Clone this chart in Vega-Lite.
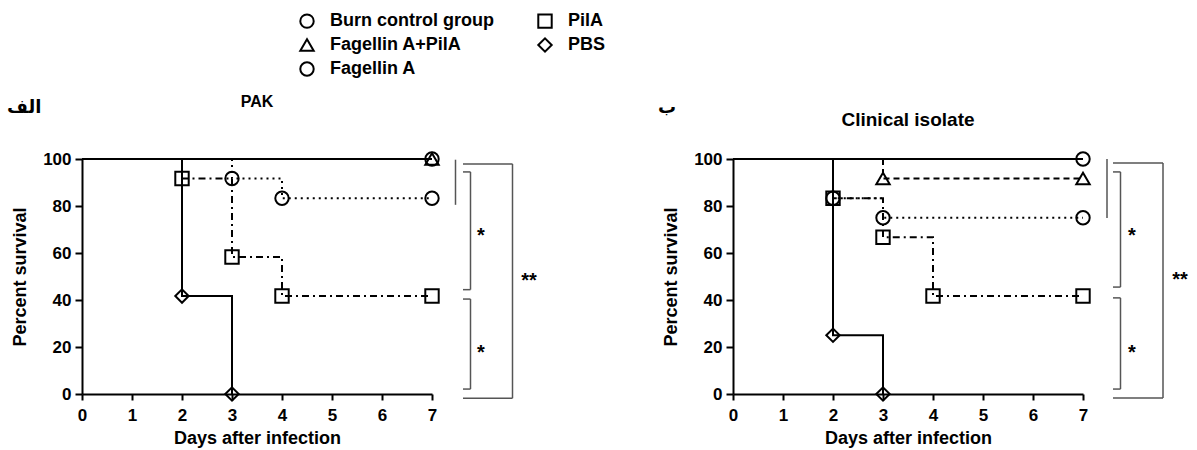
{
  "$schema": "https://vega.github.io/schema/vega-lite/v6.json",
  "autosize": {"type": "pad"},
  "padding": {"left": 7, "top": 12, "right": 4, "bottom": 2},
  "bounds": "flush",
  "spacing": 301,
  "config": {
    "view": {"stroke": null},
    "font": "Liberation Sans",
    "axis": {
      "grid": false,
      "domainColor": "black", "domainWidth": 2,
      "tickColor": "black", "tickWidth": 2, "tickSize": 6,
      "labelColor": "black", "labelFontSize": 17, "labelFontWeight": "bold", "labelFont": "Liberation Sans",
      "titleColor": "black", "titleFontSize": 18, "titleFontWeight": "bold", "titleFont": "Liberation Sans"
    },
    "axisX": {"labelPadding": 7, "titlePadding": 6, "labelFlush": false},
    "axisY": {"tickSize": 7, "labelPadding": 4, "titlePadding": 13}
  },
  "datasets": {
    "surv": [
      {"panel": "PAK", "group": "Burn control group", "day": 0, "pct": 100},
      {"panel": "PAK", "group": "Burn control group", "day": 7, "pct": 100},
      {"panel": "PAK", "group": "Fagellin A+PilA", "day": 0, "pct": 100},
      {"panel": "PAK", "group": "Fagellin A+PilA", "day": 7, "pct": 100},
      {"panel": "PAK", "group": "Fagellin A", "day": 0, "pct": 100},
      {"panel": "PAK", "group": "Fagellin A", "day": 3, "pct": 91.7},
      {"panel": "PAK", "group": "Fagellin A", "day": 4, "pct": 83.3},
      {"panel": "PAK", "group": "Fagellin A", "day": 7, "pct": 83.3},
      {"panel": "PAK", "group": "PilA", "day": 0, "pct": 100},
      {"panel": "PAK", "group": "PilA", "day": 2, "pct": 91.7},
      {"panel": "PAK", "group": "PilA", "day": 3, "pct": 58.3},
      {"panel": "PAK", "group": "PilA", "day": 4, "pct": 41.7},
      {"panel": "PAK", "group": "PilA", "day": 7, "pct": 41.7},
      {"panel": "PAK", "group": "PBS", "day": 0, "pct": 100},
      {"panel": "PAK", "group": "PBS", "day": 2, "pct": 41.7},
      {"panel": "PAK", "group": "PBS", "day": 3, "pct": 0},
      {"panel": "Clinical isolate", "group": "Burn control group", "day": 0, "pct": 100},
      {"panel": "Clinical isolate", "group": "Burn control group", "day": 7, "pct": 100},
      {"panel": "Clinical isolate", "group": "Fagellin A+PilA", "day": 0, "pct": 100},
      {"panel": "Clinical isolate", "group": "Fagellin A+PilA", "day": 3, "pct": 91.7},
      {"panel": "Clinical isolate", "group": "Fagellin A+PilA", "day": 7, "pct": 91.7},
      {"panel": "Clinical isolate", "group": "Fagellin A", "day": 0, "pct": 100},
      {"panel": "Clinical isolate", "group": "Fagellin A", "day": 2, "pct": 83.3},
      {"panel": "Clinical isolate", "group": "Fagellin A", "day": 3, "pct": 75},
      {"panel": "Clinical isolate", "group": "Fagellin A", "day": 7, "pct": 75},
      {"panel": "Clinical isolate", "group": "PilA", "day": 0, "pct": 100},
      {"panel": "Clinical isolate", "group": "PilA", "day": 2, "pct": 83.3},
      {"panel": "Clinical isolate", "group": "PilA", "day": 3, "pct": 66.7},
      {"panel": "Clinical isolate", "group": "PilA", "day": 4, "pct": 41.7},
      {"panel": "Clinical isolate", "group": "PilA", "day": 7, "pct": 41.7},
      {"panel": "Clinical isolate", "group": "PBS", "day": 0, "pct": 100},
      {"panel": "Clinical isolate", "group": "PBS", "day": 2, "pct": 25},
      {"panel": "Clinical isolate", "group": "PBS", "day": 3, "pct": 0}
    ],
    "brackets": [
      {"panel": "PAK", "x1": 7.47, "x2": 7.47, "y1": 99.7, "y2": 80.5},
      {"panel": "PAK", "x1": 7.77, "x2": 7.77, "y1": 94.5, "y2": 44.4},
      {"panel": "PAK", "x1": 7.62, "x2": 7.77, "y1": 94.5, "y2": 94.5},
      {"panel": "PAK", "x1": 7.62, "x2": 7.77, "y1": 44.4, "y2": 44.4},
      {"panel": "PAK", "x1": 7.77, "x2": 7.77, "y1": 40.4, "y2": 2.1},
      {"panel": "PAK", "x1": 7.62, "x2": 7.77, "y1": 40.4, "y2": 40.4},
      {"panel": "PAK", "x1": 7.62, "x2": 7.77, "y1": 2.1, "y2": 2.1},
      {"panel": "PAK", "x1": 8.61, "x2": 8.61, "y1": 97.9, "y2": -1.8},
      {"panel": "PAK", "x1": 7.62, "x2": 8.61, "y1": 97.9, "y2": 97.9},
      {"panel": "PAK", "x1": 7.62, "x2": 8.61, "y1": -1.8, "y2": -1.8},
      {"panel": "Clinical isolate", "x1": 7.48, "x2": 7.48, "y1": 100, "y2": 74.9},
      {"panel": "Clinical isolate", "x1": 7.75, "x2": 7.75, "y1": 94.5, "y2": 45.5},
      {"panel": "Clinical isolate", "x1": 7.6, "x2": 7.75, "y1": 94.5, "y2": 94.5},
      {"panel": "Clinical isolate", "x1": 7.6, "x2": 7.75, "y1": 45.5, "y2": 45.5},
      {"panel": "Clinical isolate", "x1": 7.75, "x2": 7.75, "y1": 40.9, "y2": 2.1},
      {"panel": "Clinical isolate", "x1": 7.6, "x2": 7.75, "y1": 40.9, "y2": 40.9},
      {"panel": "Clinical isolate", "x1": 7.6, "x2": 7.75, "y1": 2.1, "y2": 2.1},
      {"panel": "Clinical isolate", "x1": 8.6, "x2": 8.6, "y1": 98.3, "y2": -1.7},
      {"panel": "Clinical isolate", "x1": 7.6, "x2": 8.6, "y1": 98.3, "y2": 98.3},
      {"panel": "Clinical isolate", "x1": 7.6, "x2": 8.6, "y1": -1.7, "y2": -1.7}
    ],
    "stars": [
      {"panel": "PAK", "x": 7.98, "y": 69.5, "label": "*"},
      {"panel": "PAK", "x": 7.98, "y": 19.6, "label": "*"},
      {"panel": "PAK", "x": 8.94, "y": 50.3, "label": "**"},
      {"panel": "Clinical isolate", "x": 7.98, "y": 69.4, "label": "*"},
      {"panel": "Clinical isolate", "x": 7.98, "y": 19.6, "label": "*"},
      {"panel": "Clinical isolate", "x": 8.94, "y": 50.6, "label": "**"}
    ],
    "tags": [
      {"panel": "PAK", "tag": "الف"},
      {"panel": "Clinical isolate", "tag": "ب"}
    ]
  },
  "hconcat": [
    {
      "width": 350, "height": 235,
      "title": {"text": "PAK", "frame": "group", "anchor": "middle", "fontSize": 16, "fontWeight": "bold", "font": "Liberation Sans", "color": "black", "baseline": "alphabetic", "offset": -24},
      "layer": [
        {
          "data": {"name": "surv"},
          "transform": [{"filter": "datum.panel == 'PAK'"}],
          "mark": {"type": "line", "interpolate": "step-after", "color": "black", "strokeWidth": 2},
          "encoding": {
            "x": {"field": "day", "type": "quantitative", "scale": {"domain": [0, 7], "nice": false}, "axis": {"values": [0, 1, 2, 3, 4, 5, 6, 7], "format": "d", "title": "Days after infection"}},
            "y": {"field": "pct", "type": "quantitative", "scale": {"domain": [0, 100], "nice": false}, "axis": {"values": [0, 20, 40, 60, 80, 100], "title": "Percent survival"}},
            "strokeDash": {"field": "group", "type": "nominal", "scale": {"domain": ["PBS", "PilA", "Fagellin A", "Fagellin A+PilA", "Burn control group"], "range": [[1, 0], [7, 4, 2, 4], [2, 4], [6, 4], [1, 0]]}, "legend": null}
          }
        },
        {
          "data": {"name": "surv"},
          "transform": [{"filter": "datum.panel == 'PAK' && datum.day > 0"}],
          "mark": {"type": "point", "filled": false, "color": "black", "strokeWidth": 2, "size": 180, "opacity": 1},
          "encoding": {
            "x": {"field": "day", "type": "quantitative", "scale": {"domain": [0, 7], "nice": false}, "title": "Days after infection"},
            "y": {"field": "pct", "type": "quantitative", "scale": {"domain": [0, 100], "nice": false}, "title": "Percent survival"},
            "shape": {
              "field": "group", "type": "nominal",
              "scale": {
                "domain": ["Burn control group", "Fagellin A+PilA", "Fagellin A", "PilA", "PBS"],
                "range": ["circle", "triangle-up", "circle", "square", "diamond"]
              },
              "legend": {
                "title": null, "orient": "none", "legendX": 216, "legendY": -147,
                "columns": 2, "columnPadding": 40, "rowPadding": 2, "padding": 0,
                "labelFontSize": 18, "labelFontWeight": "bold", "labelFont": "Liberation Sans", "labelColor": "black", "labelOffset": 14, "labelLimit": 400,
                "symbolSize": 180, "symbolStrokeWidth": 2
              }
            }
          }
        },
        {
          "data": {"name": "brackets"},
          "transform": [{"filter": "datum.panel == 'PAK'"}],
          "mark": {"type": "rule", "color": "#555555", "strokeWidth": 1.5},
          "encoding": {
            "x": {"field": "x1", "type": "quantitative", "scale": {"domain": [0, 7], "nice": false}, "title": "Days after infection"},
            "x2": {"field": "x2"},
            "y": {"field": "y1", "type": "quantitative", "scale": {"domain": [0, 100], "nice": false}, "title": "Percent survival"},
            "y2": {"field": "y2"}
          }
        },
        {
          "data": {"name": "stars"},
          "transform": [{"filter": "datum.panel == 'PAK'"}],
          "mark": {"type": "text", "fontSize": 20, "fontWeight": "bold", "font": "Liberation Sans", "color": "black", "baseline": "middle", "align": "center", "dy": 5},
          "encoding": {
            "x": {"field": "x", "type": "quantitative", "scale": {"domain": [0, 7], "nice": false}, "title": "Days after infection"},
            "y": {"field": "y", "type": "quantitative", "scale": {"domain": [0, 100], "nice": false}, "title": "Percent survival"},
            "text": {"field": "label"}
          }
        },
        {
          "data": {"name": "tags"},
          "transform": [{"filter": "datum.panel == 'PAK'"}],
          "mark": {"type": "text", "fontSize": 18, "fontWeight": "bold", "font": "DejaVu Sans", "color": "black", "baseline": "alphabetic", "align": "left"},
          "encoding": {
            "x": {"datum": -1.5, "type": "quantitative", "scale": {"domain": [0, 7], "nice": false}},
            "y": {"datum": 119.5, "type": "quantitative", "scale": {"domain": [0, 100], "nice": false}},
            "text": {"field": "tag"}
          }
        }
      ]
    },
    {
      "width": 350, "height": 235,
      "title": {"text": "Clinical isolate", "frame": "group", "anchor": "middle", "fontSize": 19, "fontWeight": "bold", "font": "Liberation Sans", "color": "black", "baseline": "alphabetic", "offset": -46},
      "layer": [
        {
          "data": {"name": "surv"},
          "transform": [{"filter": "datum.panel == 'Clinical isolate'"}],
          "mark": {"type": "line", "interpolate": "step-after", "color": "black", "strokeWidth": 2},
          "encoding": {
            "x": {"field": "day", "type": "quantitative", "scale": {"domain": [0, 7], "nice": false}, "axis": {"values": [0, 1, 2, 3, 4, 5, 6, 7], "format": "d", "title": "Days after infection"}},
            "y": {"field": "pct", "type": "quantitative", "scale": {"domain": [0, 100], "nice": false}, "axis": {"values": [0, 20, 40, 60, 80, 100], "title": "Percent survival"}},
            "strokeDash": {"field": "group", "type": "nominal", "scale": {"domain": ["PBS", "PilA", "Fagellin A", "Fagellin A+PilA", "Burn control group"], "range": [[1, 0], [7, 4, 2, 4], [2, 4], [6, 4], [1, 0]]}, "legend": null}
          }
        },
        {
          "data": {"name": "surv"},
          "transform": [{"filter": "datum.panel == 'Clinical isolate' && datum.day > 0"}],
          "mark": {"type": "point", "filled": false, "color": "black", "strokeWidth": 2, "size": 180, "opacity": 1},
          "encoding": {
            "x": {"field": "day", "type": "quantitative", "scale": {"domain": [0, 7], "nice": false}, "title": "Days after infection"},
            "y": {"field": "pct", "type": "quantitative", "scale": {"domain": [0, 100], "nice": false}, "title": "Percent survival"},
            "shape": {
              "field": "group", "type": "nominal",
              "scale": {
                "domain": ["Burn control group", "Fagellin A+PilA", "Fagellin A", "PilA", "PBS"],
                "range": ["circle", "triangle-up", "circle", "square", "diamond"]
              }
            }
          }
        },
        {
          "data": {"name": "brackets"},
          "transform": [{"filter": "datum.panel == 'Clinical isolate'"}],
          "mark": {"type": "rule", "color": "#555555", "strokeWidth": 1.5},
          "encoding": {
            "x": {"field": "x1", "type": "quantitative", "scale": {"domain": [0, 7], "nice": false}, "title": "Days after infection"},
            "x2": {"field": "x2"},
            "y": {"field": "y1", "type": "quantitative", "scale": {"domain": [0, 100], "nice": false}, "title": "Percent survival"},
            "y2": {"field": "y2"}
          }
        },
        {
          "data": {"name": "stars"},
          "transform": [{"filter": "datum.panel == 'Clinical isolate'"}],
          "mark": {"type": "text", "fontSize": 20, "fontWeight": "bold", "font": "Liberation Sans", "color": "black", "baseline": "middle", "align": "center", "dy": 5},
          "encoding": {
            "x": {"field": "x", "type": "quantitative", "scale": {"domain": [0, 7], "nice": false}, "title": "Days after infection"},
            "y": {"field": "y", "type": "quantitative", "scale": {"domain": [0, 100], "nice": false}, "title": "Percent survival"},
            "text": {"field": "label"}
          }
        },
        {
          "data": {"name": "tags"},
          "transform": [{"filter": "datum.panel == 'Clinical isolate'"}],
          "mark": {"type": "text", "fontSize": 18, "fontWeight": "bold", "font": "DejaVu Sans", "color": "black", "baseline": "alphabetic", "align": "left"},
          "encoding": {
            "x": {"datum": -1.5, "type": "quantitative", "scale": {"domain": [0, 7], "nice": false}},
            "y": {"datum": 119.5, "type": "quantitative", "scale": {"domain": [0, 100], "nice": false}},
            "text": {"field": "tag"}
          }
        }
      ]
    }
  ]
}
